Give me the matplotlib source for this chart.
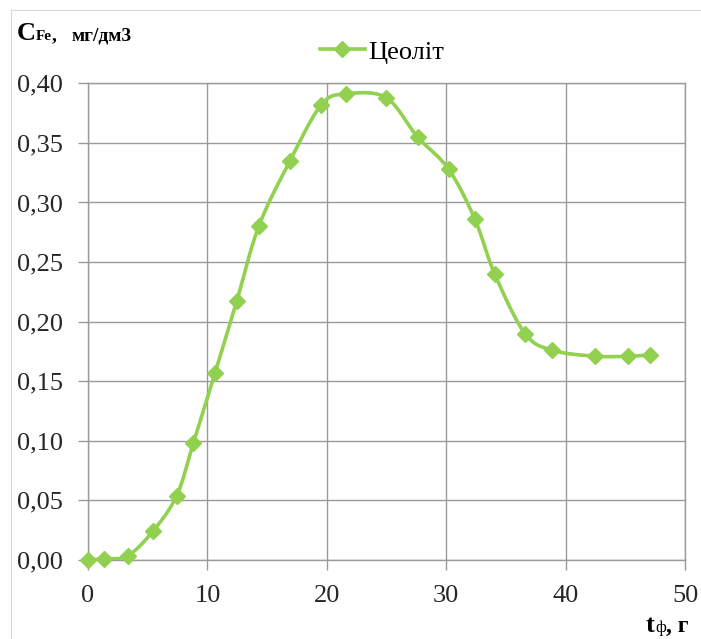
import numpy as np
import matplotlib
matplotlib.use("Agg")
import matplotlib.pyplot as plt
from matplotlib.lines import Line2D

# Data
t_values = [0.0, 1.37, 3.32, 5.42, 7.43, 8.82, 10.64, 12.45, 14.3, 16.92, 19.54,
            21.58, 24.96, 27.6, 30.2, 32.4, 34.06, 36.6, 38.9, 42.46, 45.25, 47.07]
c_values = [0.0, 0.001, 0.0035, 0.024, 0.054, 0.098, 0.157, 0.217, 0.280, 0.335, 0.382,
            0.391, 0.388, 0.355, 0.328, 0.286, 0.240, 0.190, 0.176, 0.171, 0.171, 0.172]
series_name = "Цеоліт"
x_ticks = [0, 10, 20, 30, 40, 50]
y_ticks = [0.0, 0.05, 0.10, 0.15, 0.20, 0.25, 0.30, 0.35, 0.40]
y_tick_labels = ["0,00", "0,05", "0,10", "0,15", "0,20", "0,25", "0,30", "0,35", "0,40"]

GREEN = "#92D050"
GRID = "#9a9a9a"
SERIF = ["Liberation Serif", "DejaVu Serif"]


def smooth(xs, ys, n=30):
    """Bezier smoothing (Excel-like) through the given points."""
    P = np.column_stack([xs, ys]).astype(float)
    out = [P[0]]
    for i in range(len(P) - 1):
        p0 = P[i - 1] if i > 0 else P[i]
        p1 = P[i]
        p2 = P[i + 1]
        p3 = P[i + 2] if i + 2 < len(P) else P[i + 1]
        c1 = p1 + (p2 - p0) / 6.0
        c2 = p2 - (p3 - p1) / 6.0
        tt = np.linspace(0, 1, n)[1:, None]
        seg = ((1 - tt) ** 3) * p1 + 3 * ((1 - tt) ** 2) * tt * c1 + 3 * (1 - tt) * tt ** 2 * c2 + tt ** 3 * p2
        out.extend(seg)
    out = np.array(out)
    return out[:, 0], out[:, 1]


W, H = 701, 639
fig = plt.figure(figsize=(W / 100, H / 100), dpi=100)
fig.patch.set_facecolor("white")

# faint outer border (chart area)
fig.add_artist(Line2D([11 / W, 11 / W], [0, 1 - 10 / H], transform=fig.transFigure,
                      color="#d9d9d9", lw=0.8))
fig.add_artist(Line2D([11 / W, 1], [1 - 10 / H, 1 - 10 / H], transform=fig.transFigure,
                      color="#d9d9d9", lw=0.8))

left, right = 88 / W, 685 / W
bottom, top = (H - 560) / H, (H - 83.3) / H
ax = fig.add_axes([left, bottom, right - left, top - bottom])

sx, sy = smooth(t_values, c_values)
ax.plot(sx, sy, color=GREEN, lw=2.6, solid_capstyle="round", zorder=3)
ax.plot(t_values, c_values, linestyle="none", marker="D", color=GREEN,
        markersize=8.5, zorder=4, clip_on=False)

ax.set_xlim(0, 50)
ax.set_ylim(0, 0.40)
ax.set_xticks(x_ticks)
ax.set_yticks(y_ticks)
ax.set_yticklabels(y_tick_labels)
ax.grid(True, color=GRID, lw=1.0)
ax.set_axisbelow(True)
for s in ax.spines.values():
    s.set_color(GRID)
    s.set_linewidth(1.0)
ax.tick_params(axis="both", direction="out", length=7, width=1.0, color=GRID,
               labelsize=19, labelcolor="#262626")
ax.tick_params(axis="x", pad=11)
ax.tick_params(axis="y", pad=11)
for lab in ax.get_xticklabels() + ax.get_yticklabels():
    lab.set_fontfamily(SERIF)

# legend
handle = Line2D([], [], color=GREEN, lw=2.6, marker="D", markersize=8.5)
leg = fig.legend([handle], [series_name], loc="center", bbox_to_anchor=(382 / W, 1 - 52 / H),
                 frameon=False, prop={"family": SERIF, "size": 19}, handlelength=1.7,
                 handletextpad=0.15)

# y-axis title
fig.text(17 / W, 1 - 40 / H, "C", fontsize=19, fontweight="bold", family=SERIF,
         ha="left", va="baseline")
fig.text(36 / W, 1 - 40 / H, "Fe", fontsize=11, fontweight="bold", family=SERIF,
         ha="left", va="baseline")
fig.text(52 / W, 1 - 40 / H, ",", fontsize=14, fontweight="bold", family=SERIF,
         ha="left", va="baseline")
fig.text(72 / W, 1 - 40 / H, "мг/дм3", fontsize=14, fontweight="bold", family=SERIF,
         ha="left", va="baseline")

# x-axis title
fig.text(646 / W, 1 - 632 / H, "t", fontsize=19, fontweight="bold", family=SERIF,
         ha="left", va="baseline")
fig.text(655 / W, 1 - 632 / H, "ф", fontsize=12, family=SERIF,
         ha="left", va="baseline")
fig.text(666 / W, 1 - 632 / H, ", г", fontsize=17, fontweight="bold", family=SERIF,
         ha="left", va="baseline")

fig.savefig("out.png", dpi=100, facecolor="white")
